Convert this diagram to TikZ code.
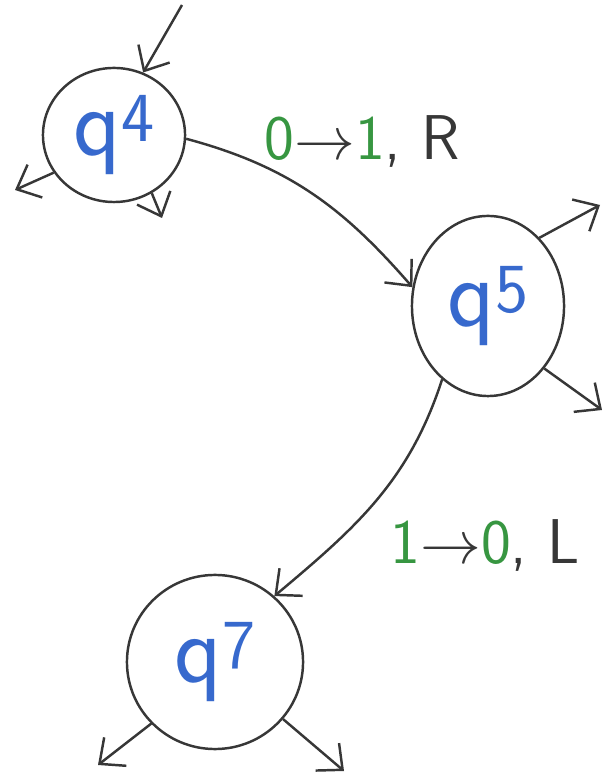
\documentclass[tikz,border=0pt]{standalone}
\usepackage{amsmath}
\usepackage{tikz}
\usetikzlibrary{arrows.meta,shapes.geometric}
\definecolor{StateBlue}{RGB}{55,105,205}
\definecolor{SymGreen}{RGB}{55,150,65}
\definecolor{InkGray}{RGB}{55,55,55}
\newcommand{\stname}[2]{\textcolor{StateBlue}{\fontsize{28}{30}\selectfont #1\raisebox{0.35ex}{\fontsize{20}{22}\selectfont #2}}}

\begin{document}
\begin{tikzpicture}[x=0.01cm, y=0.01cm, >={Straight Barb[length=2mm,width=3.6mm]}, font=\sffamily,
    state/.style={draw=InkGray, line width=0.7pt, ellipse, inner sep=0pt},
    trans/.style={->, draw=InkGray, line width=0.7pt},
    tlabel/.style={text=InkGray, font=\sffamily\fontsize{18}{20}\selectfont}]
      \useasboundingbox (0,0) rectangle (606,776);
      \node[state, minimum width=1.42cm, minimum height=1.34cm] (q4) at (114,641) {\stname{q}{4}};
      \node[state, minimum width=1.52cm, minimum height=1.80cm] (q5) at (488,470) {\stname{q}{5}};
      \node[state, minimum width=1.76cm, minimum height=1.74cm] (q7) at (215,114) {\stname{q}{7}};
      \node[tlabel] (l45) at (362,634) {\textcolor{SymGreen}{0}$\rightarrow$\textcolor{SymGreen}{1}, R};
      \node[tlabel] (l57) at (485,231) {\textcolor{SymGreen}{1}$\rightarrow$\textcolor{SymGreen}{0}, L};
      % free ends
      \coordinate (in4) at (182,771);
      \coordinate (out4a) at (15,586);
      \coordinate (out4b) at (162,558);
      \coordinate (out5a) at (600,571);
      \coordinate (out5b) at (602,366);
      \coordinate (out7a) at (98,11);
      \coordinate (out7b) at (344,5);
      \draw[trans] (in4) -- (q4.65);
      \draw[trans] (q4.212) -- (out4a);
      \draw[trans] (q4.-57) -- (out4b);
      \draw[trans] (q5.53) -- (out5a);
      \draw[trans] (q5.-48) -- (out5b);
      \draw[trans] (q7.-136) -- (out7a);
      \draw[trans] (q7.-40) -- (out7b);
      \draw[trans] (q4.-3) to[out=-15, in=131] (q5.166);
      \draw[trans] (q5.-122) to[out=-108, in=40] (q7.48);
    \end{tikzpicture}
\end{document}
